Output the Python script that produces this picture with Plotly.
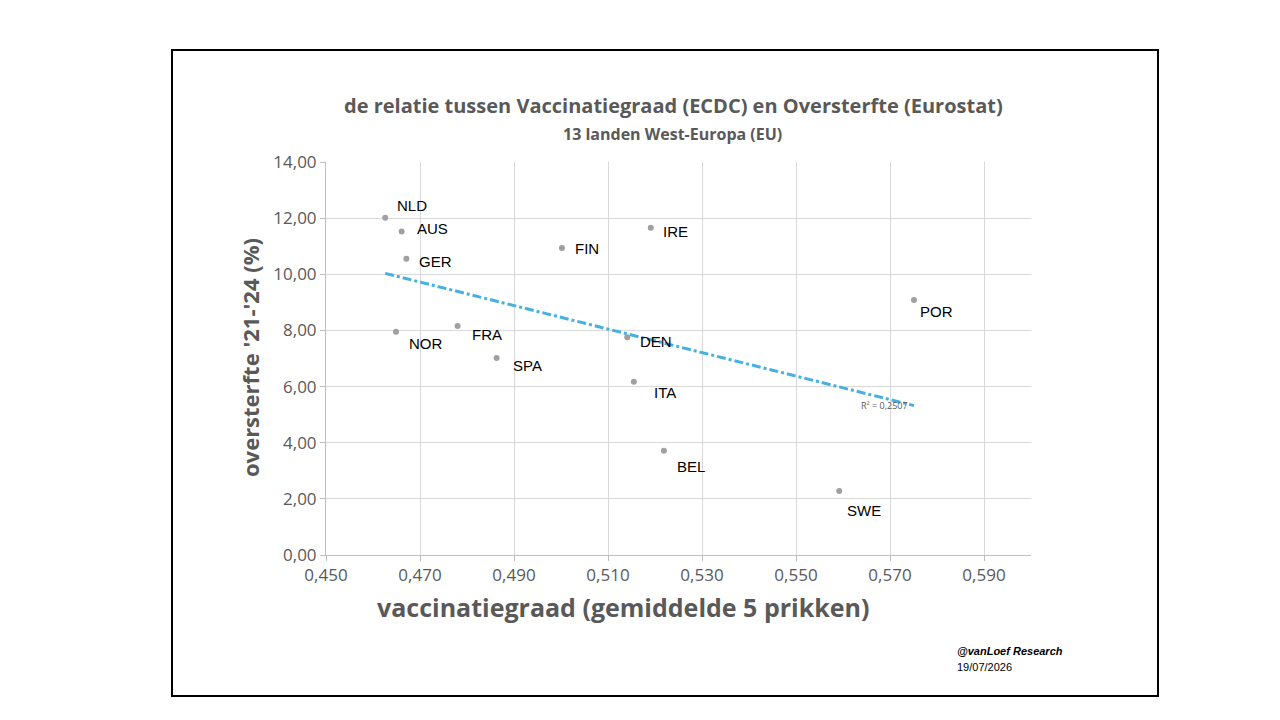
import numpy as np
import plotly.graph_objects as go

countries = ["NLD","AUS","GER","FIN","IRE","POR","NOR","FRA","SPA","DEN","ITA","BEL","SWE"]
vacc = [0.4626,0.4661,0.4671,0.5002,0.5191,0.5751,0.4649,0.4780,0.4863,0.5141,0.5155,0.5219,0.5592]
excess = [12.01,11.52,10.55,10.94,11.66,9.08,7.95,8.16,7.02,7.76,6.17,3.71,2.28]
x_ticks = [0.45,0.47,0.49,0.51,0.53,0.55,0.57,0.59]
x_labels = ["0,450","0,470","0,490","0,510","0,530","0,550","0,570","0,590"]
y_ticks = [0,2,4,6,8,10,12,14]
y_labels = ["0,00","2,00","4,00","6,00","8,00","10,00","12,00","14,00"]

# label offsets (style)
label_dx = [10,13,11,11,10,4,11,12,14,11,18,11,6]
label_dy = [-12,-3,3,1,4,11,12,9,8,4,11,16,19]

slope, icpt = np.polyfit(vacc, excess, 1)
xs = [min(vacc), max(vacc)]
ys = [slope*v+icpt for v in xs]

fig = go.Figure()
fig.add_trace(go.Scatter(x=xs, y=ys, mode="lines",
    line=dict(color="#45B0E1", width=3, dash="dashdot"), hoverinfo="skip"))
fig.add_trace(go.Scatter(x=vacc, y=excess, mode="markers",
    marker=dict(color="#A0A0A0", size=6)))

for c, xv, yv, dx, dy in zip(countries, vacc, excess, label_dx, label_dy):
    fig.add_annotation(x=xv, y=yv, text=c, showarrow=False, xanchor="left",
        xshift=dx, yshift=-dy, font=dict(family="Liberation Sans", size=15, color="#000"))

fig.add_annotation(x=xs[1], y=ys[1], text="R² = 0,2507", showarrow=False, xanchor="right",
    xshift=-4, yshift=0, font=dict(family="Open Sans", size=9, color="#595959"))

L, R, T, B = 318, 257, 154, 173
W, H = 1280 - L - R, 720 - T - B
def px(xp): return (xp - 8 - L) / W
def py(yp): return (720 - B - (yp - 8)) / H

fig.add_shape(type="rect", xref="paper", yref="paper", x0=px(172), x1=px(1158), y0=py(696), y1=py(50),
    line=dict(color="black", width=2), layer="below")

fig.add_annotation(xref="paper", yref="paper", x=px(673), y=py(90), text="<b>de relatie tussen Vaccinatiegraad (ECDC) en Oversterfte (Eurostat)</b>",
    showarrow=False, font=dict(family="Open Sans", size=20, color="#595959"))
fig.add_annotation(xref="paper", yref="paper", x=px(672), y=py(121), text="<b>13 landen West-Europa (EU)</b>",
    showarrow=False, font=dict(family="Open Sans", size=16, color="#595959"))
fig.add_annotation(xref="paper", yref="paper", x=px(623), y=py(626), text="<b>vaccinatiegraad (gemiddelde 5 prikken)</b>",
    showarrow=False, font=dict(family="Open Sans", size=25, color="#595959"))
fig.add_annotation(xref="paper", yref="paper", x=px(250), y=py(358), xanchor="center", text="<b>oversterfte '21-'24 (%)</b>",
    showarrow=False, textangle=-90, font=dict(family="Open Sans", size=22, color="#595959"))
fig.add_annotation(xref="paper", yref="paper", x=px(955), y=py(659), xanchor="left", text="<b><i>@vanLoef Research</i></b>",
    showarrow=False, font=dict(family="Liberation Sans", size=11, color="#000"))
fig.add_annotation(xref="paper", yref="paper", x=px(955), y=py(675), xanchor="left", text="19/07/2026",
    showarrow=False, font=dict(family="Liberation Sans", size=11, color="#000"))

fig.update_layout(width=1280, height=720, showlegend=False,
    plot_bgcolor="white", paper_bgcolor="white",
    margin=dict(l=L, r=R, t=T, b=B),
    xaxis=dict(range=[0.45, 0.60], tickvals=x_ticks, ticktext=x_labels, showgrid=True, gridcolor="#D9D9D9",
               zeroline=False, showline=True, linecolor="#BFBFBF", ticks="outside", ticklen=5, tickcolor="#BFBFBF",
               tickfont=dict(family="Open Sans", size=17, color="#595959")),
    yaxis=dict(range=[0, 14], tickvals=y_ticks, ticktext=y_labels, showgrid=True, gridcolor="#D9D9D9",
               zeroline=False, showline=True, linecolor="#BFBFBF", ticks="outside", ticklen=5, tickcolor="#BFBFBF",
               tickfont=dict(family="Open Sans", size=17, color="#595959")))
fig.write_html("out.html")
